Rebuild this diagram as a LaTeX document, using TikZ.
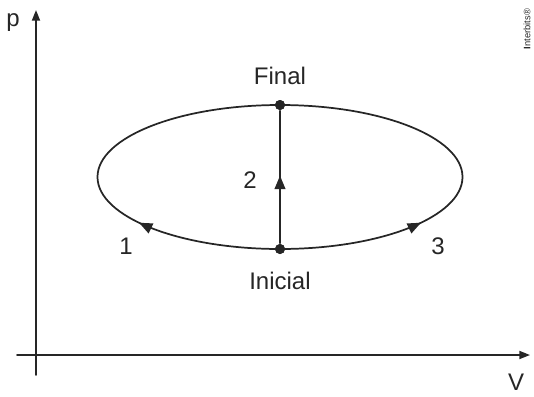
\documentclass[tikz,border=0pt]{standalone}
\usepackage{fontspec}
\setmainfont{Liberation Sans}
\usetikzlibrary{arrows.meta,decorations.markings}
\definecolor{ink}{RGB}{38,38,38}
\tikzset{
  dot/.style={circle,fill=ink,inner sep=0pt,minimum size=7.5pt},
  lbl/.style={inner sep=0pt,text=ink,font=\fontsize{18}{21}\selectfont},
  axistip/.style={-{Triangle[length=8pt,width=6pt]}},
  midtip/.style={postaction={decorate},decoration={markings,
      mark=at position #1 with {\arrow{Triangle[length=10pt,width=8pt]}}}},
}
\begin{document}
\begin{tikzpicture}[x=0.75pt,y=-0.75pt,line cap=round,line join=round,line width=1.3pt,draw=ink]
  \useasboundingbox (0,0) rectangle (534,396);
  % axes
  \coordinate (ybot) at (36,375);
  \coordinate (ytop) at (36,10);
  \coordinate (xlft) at (17,355);
  \coordinate (xrgt) at (530,355);
  \draw[axistip] (ybot) -- (ytop);
  \draw[axistip] (xlft) -- (xrgt);
  \node[lbl,anchor=base] (plbl) at (13,26) {p};
  \node[lbl,anchor=base] (vlbl) at (516,390) {V};
  % states
  \node[dot] (fin) at (280,105) {};
  \node[dot] (ini) at (280,249) {};
  % paths 1 and 3
  \draw[midtip=0.345] (ini.center) arc[start angle=90,end angle=270,x radius=182.5,y radius=72];
  \draw[midtip=0.345] (ini.center) arc[start angle=90,end angle=-90,x radius=182.5,y radius=72];
  % path 2
  \draw[midtip=0.51] (ini) -- (fin);
  \node[dot] at (fin) {};
  \node[dot] at (ini) {};
  \node[lbl,anchor=south] (finlbl) at (280,86) {Final};
  \node[lbl,anchor=north] (inilbl) at (280,271) {Inicial};
  \node[lbl] (two) at (250,180) {2};
  \node[lbl] (one) at (126,246) {1};
  \node[lbl] (three) at (438,246) {3};
  \node[rotate=90,inner sep=0pt,text=ink,font=\fontsize{7}{8}\selectfont] (credit) at (527,29) {\textbf{I}nterbits®};
\end{tikzpicture}
\end{document}
